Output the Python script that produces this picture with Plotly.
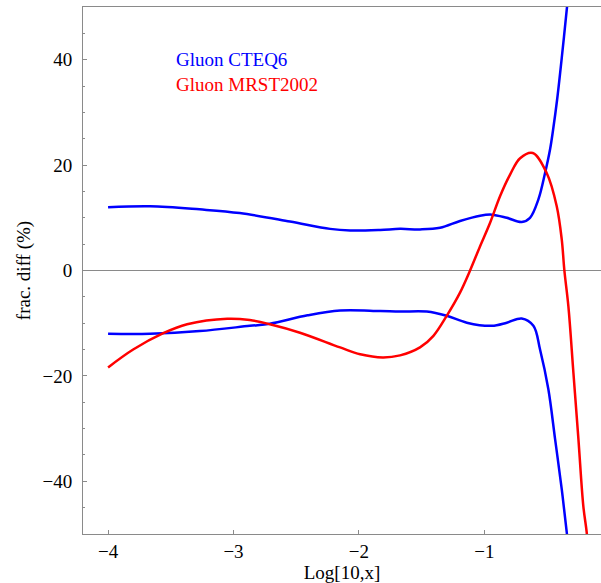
import plotly.graph_objects as go

# CTEQ6 uncertainty band (upper / lower), x axis = log10(x)
cteq_up_x = [-4.0, -3.665, -3.27, -2.95, -2.55, -2.23, -2.07, -1.83, -1.672, -1.513, -1.353,
             -1.194, -1.034, -0.941, -0.821, -0.702, -0.636, -0.569, -0.516, -0.476, -0.452,
             -0.420, -0.380, -0.341, -0.32]
cteq_up_y = [12.0, 12.2, 11.6, 10.9, 9.3, 7.9, 7.6, 7.7, 7.9, 7.8, 8.1,
             9.4, 10.4, 10.6, 10.0, 9.2, 10.0, 13.5, 18.5, 23.0, 26.7,
             32.4, 41.0, 50.0, 55.5]

cteq_lo_x = [-4.0, -3.665, -3.27, -2.87, -2.71, -2.41, -2.15, -1.83, -1.672, -1.459, -1.300,
             -1.140, -0.941, -0.821, -0.702, -0.609, -0.556, -0.490, -0.436, -0.383, -0.343, -0.32]
cteq_lo_y = [-12.0, -12.0, -11.5, -10.5, -10.1, -8.5, -7.6, -7.7, -7.8, -7.8, -8.6,
             -9.9, -10.5, -9.9, -9.1, -10.5, -15.0, -22.5, -32.0, -41.5, -49.7, -55.0]

# MRST2002
mrst_x = [-4.0, -3.80, -3.56, -3.37, -3.05, -2.87, -2.71, -2.47, -2.15, -1.99, -1.81, -1.672,
          -1.513, -1.406, -1.300, -1.194, -1.114, -1.034, -0.955, -0.875, -0.795, -0.715,
          -0.614, -0.503, -0.423, -0.383, -0.362, -0.330, -0.290, -0.250, -0.211, -0.184, -0.17]
mrst_y = [-18.4, -15.0, -11.9, -10.2, -9.15, -9.4, -10.2, -11.8, -14.6, -15.9, -16.5, -16.1,
          -14.6, -12.4, -8.6, -4.2, 0.0, 4.6, 9.0, 14.1, 18.2, 21.3,
          22.3, 18.5, 12.2, 5.9, 0.0, -6.8, -19.4, -32.0, -44.7, -49.7, -54.0]

x_tickvals = [-4, -3, -2, -1]
x_ticktext = ["\u22124", "\u22123", "\u22122", "\u22121"]
y_tickvals = [-40, -20, 0, 20, 40]
y_ticktext = ["\u221240", "\u221220", "0", "20", "40"]

FONT = "Liberation Serif, serif"
AX = "#8a8a8a"
TICKFONT = dict(family=FONT, size=19, color="black")

fig = go.Figure()
for xs, ys, col in [(cteq_up_x, cteq_up_y, "#0000ff"),
                    (cteq_lo_x, cteq_lo_y, "#0000ff"),
                    (mrst_x, mrst_y, "#ff0000")]:
    fig.add_trace(go.Scatter(x=xs, y=ys, mode="lines",
                             line=dict(color=col, width=2.5, shape="spline", smoothing=1.0),
                             showlegend=False))

fig.add_annotation(text="Gluon CTEQ6", xref="paper", yref="paper", x=0.176, y=0.901,
                   xanchor="left", yanchor="middle", showarrow=False,
                   font=dict(family=FONT, size=19, color="#0000ff"))
fig.add_annotation(text="Gluon MRST2002", xref="paper", yref="paper", x=0.176, y=0.852,
                   xanchor="left", yanchor="middle", showarrow=False,
                   font=dict(family=FONT, size=19, color="#ff0000"))

fig.update_layout(
    template="none",
    width=601, height=583,
    margin=dict(l=83, r=0, t=7, b=49),
    paper_bgcolor="white", plot_bgcolor="white",
    font=dict(family=FONT, size=19, color="black"),
    xaxis=dict(range=[-4.2, -0.07], tickmode="array", tickvals=x_tickvals, ticktext=x_ticktext,
               ticks="inside", ticklen=4,
               tickcolor=AX, showline=True, linecolor=AX, linewidth=1, mirror=True,
               showgrid=False, zeroline=False, tickfont=TICKFONT,
               title=dict(text="Log[10,x]", standoff=2, font=dict(family=FONT, size=19))),
    yaxis=dict(range=[-50, 50], tickmode="array", tickvals=y_tickvals, ticktext=y_ticktext,
               ticks="inside", ticklen=4,
               tickcolor=AX, showline=True, linecolor=AX, linewidth=1,
               showgrid=False, zeroline=True, zerolinecolor=AX, zerolinewidth=1,
               ticklabelstandoff=6, tickfont=TICKFONT,
               minor=dict(dtick=5, ticks="inside", ticklen=2, tickcolor=AX, showgrid=False),
               title=dict(text="frac. diff (%)", standoff=6, font=dict(family=FONT, size=19))),
)

fig.write_html("out.html")
